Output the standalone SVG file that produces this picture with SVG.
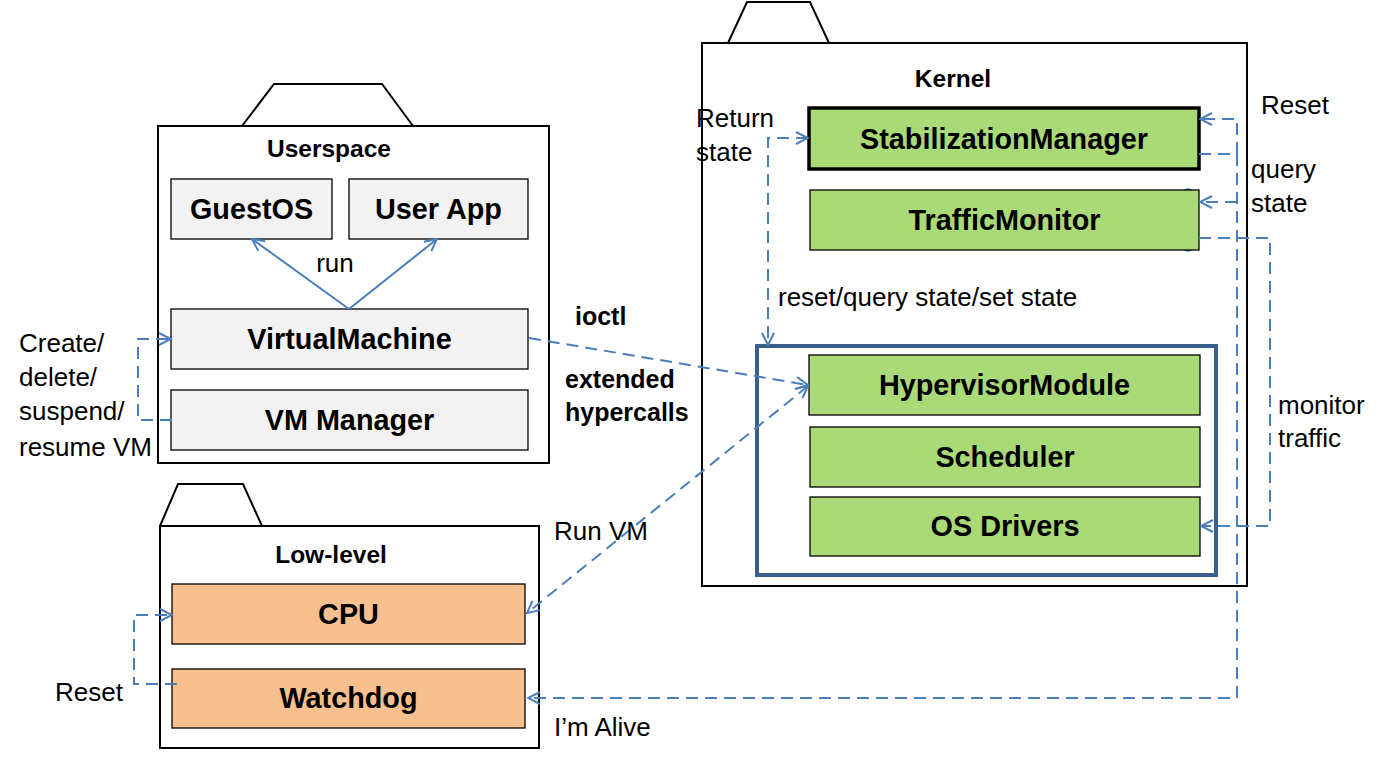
<svg xmlns="http://www.w3.org/2000/svg" width="1390" height="762" viewBox="0 0 1390 762">
<style>
  .frame { fill: #ffffff; stroke: #000000; stroke-width: 2; }
  .tab { fill: #ffffff; stroke: #000000; stroke-width: 2; stroke-linejoin: miter; }
  .gray { fill: #F2F2F2; stroke: #000000; stroke-width: 1.3; }
  .green { fill: #AAD977; stroke: #000000; stroke-width: 1.3; }
  .orange { fill: #F8BF8F; stroke: #000000; stroke-width: 1.3; }
  .thick { stroke-width: 3.5; }
  .hv { fill: none; stroke: #3A5F8D; stroke-width: 4; }
  .node { font-family: "Liberation Sans", Arial, sans-serif; font-weight: bold; font-size: 28.8px; fill: #000; text-anchor: middle; }
  .title { font-family: "Liberation Sans", Arial, sans-serif; font-weight: bold; font-size: 24.5px; fill: #000; text-anchor: middle; }
  .lbl { font-family: "Liberation Sans", Arial, sans-serif; font-size: 26px; fill: #000; }
  .blbl { font-family: "Liberation Sans", Arial, sans-serif; font-weight: bold; font-size: 25px; fill: #000; }
  .dash { fill: none; stroke: #4A7EBB; stroke-width: 2; stroke-dasharray: 12 7; }
  .solid { fill: none; stroke: #4A7EBB; stroke-width: 2; }
  .dot { fill: none; stroke: #4A7EBB; stroke-width: 1.5; }
</style>
<defs>
  <marker id="arr" viewBox="0 0 14 14" refX="13" refY="7" markerWidth="14" markerHeight="14" markerUnits="userSpaceOnUse" orient="auto-start-reverse">
    <path d="M1,1 L13,7 L1,13" fill="none" stroke="#4A7EBB" stroke-width="2"/>
  </marker>
</defs>

<g id="userspace">
  <path class="tab" d="M242,126 L274,84 L382,84 L413,126"/>
  <rect class="frame" x="158" y="126" width="391" height="337"/>
  <text class="title" x="329" y="157">Userspace</text>
</g>
<g id="lowlevel">
  <path class="tab" d="M160,526 L178,484 L243,484 L262,526"/>
  <rect class="frame" x="160" y="526" width="379" height="222"/>
  <text class="title" x="331" y="563">Low-level</text>
</g>
<g id="kernel">
  <path class="tab" d="M728,43 L747,2 L810,2 L829,43"/>
  <rect class="frame" x="702" y="43" width="545" height="543"/>
  <text class="title" x="953" y="87">Kernel</text>
</g>

<g id="anchors">
  <circle class="dot" cx="1188" cy="114" r="6"/>
  <circle class="dot" cx="1188" cy="195" r="6"/>
  <circle class="dot" cx="1188" cy="245" r="6"/>
</g>

<g id="guestos">
  <rect class="gray" x="171" y="179" width="161" height="60"/>
  <text class="node" x="251.5" y="219">GuestOS</text>
</g>
<g id="userapp">
  <rect class="gray" x="349" y="179" width="179" height="60"/>
  <text class="node" x="438.5" y="219">User App</text>
</g>
<g id="virtualmachine">
  <rect class="gray" x="171" y="309" width="357" height="60"/>
  <text class="node" x="349.5" y="349">VirtualMachine</text>
</g>
<g id="vmmanager">
  <rect class="gray" x="171" y="390" width="357" height="60"/>
  <text class="node" x="349.5" y="430">VM Manager</text>
</g>
<g id="cpu">
  <rect class="orange" x="172" y="584" width="353" height="60"/>
  <text class="node" x="348.5" y="624">CPU</text>
</g>
<g id="watchdog">
  <rect class="orange" x="172" y="669" width="353" height="59"/>
  <text class="node" x="348.5" y="708">Watchdog</text>
</g>
<g id="stabilizationmanager">
  <rect class="green thick" x="809" y="108" width="390" height="61"/>
  <text class="node" x="1004" y="149">StabilizationManager</text>
</g>
<g id="trafficmonitor">
  <rect class="green" x="810" y="190" width="389" height="60"/>
  <text class="node" x="1004.5" y="230">TrafficMonitor</text>
</g>
<g id="hypervisorgroup">
  <rect class="hv" x="757" y="346" width="459" height="229"/>
</g>
<g id="hypervisormodule">
  <rect class="green" x="809" y="355" width="391" height="60"/>
  <text class="node" x="1004.5" y="395">HypervisorModule</text>
</g>
<g id="scheduler">
  <rect class="green" x="810" y="427" width="390" height="60"/>
  <text class="node" x="1005" y="467">Scheduler</text>
</g>
<g id="osdrivers">
  <rect class="green" x="810" y="497" width="390" height="59"/>
  <text class="node" x="1005" y="536">OS Drivers</text>
</g>

<g id="connectors">
  <path class="solid" d="M349,309 L252,239" marker-end="url(#arr)"/>
  <path class="solid" d="M349,309 L437,239" marker-end="url(#arr)"/>
  <path class="dash" d="M172,420 H138 V339 H171" marker-end="url(#arr)"/>
  <path class="dash" d="M177,684 H134 V615 H172" marker-end="url(#arr)"/>
  <path class="dash" d="M529,338 L808,385" marker-end="url(#arr)"/>
  <path class="dash" d="M808,386 L527,613" marker-start="url(#arr)" marker-end="url(#arr)"/>
  <path class="dash" d="M808,138 H768 V345" marker-start="url(#arr)" marker-end="url(#arr)"/>
  <path class="dash" d="M1199,154 H1237 V698 H528" marker-end="url(#arr)"/>
  <path class="dash" d="M1237,154 V119 H1200" marker-end="url(#arr)"/>
  <path class="dash" d="M1237,202 H1200" marker-end="url(#arr)"/>
  <path class="dash" d="M1199,238 H1270 V526 H1201" marker-end="url(#arr)"/>
</g>

<g id="labels">
  <text class="lbl" x="335" y="272" text-anchor="middle">run</text>
  <text class="lbl" x="19" y="352">Create/</text>
  <text class="lbl" x="19" y="386">delete/</text>
  <text class="lbl" x="19" y="420">suspend/</text>
  <text class="lbl" x="19" y="456">resume VM</text>
  <text class="blbl" x="575" y="325">ioctl</text>
  <text class="blbl" x="565" y="388">extended</text>
  <text class="blbl" x="565" y="421">hypercalls</text>
  <text class="lbl" x="554" y="540">Run VM</text>
  <text class="lbl" x="554" y="736">I’m Alive</text>
  <text class="lbl" x="55" y="701">Reset</text>
  <text class="lbl" x="696" y="127">Return</text>
  <text class="lbl" x="696" y="161">state</text>
  <text class="lbl" x="778" y="306">reset/query state/set state</text>
  <text class="lbl" x="1261" y="114">Reset</text>
  <text class="lbl" x="1251" y="178">query</text>
  <text class="lbl" x="1251" y="212">state</text>
  <text class="lbl" x="1278" y="414">monitor</text>
  <text class="lbl" x="1278" y="447">traffic</text>
</g>
</svg>
